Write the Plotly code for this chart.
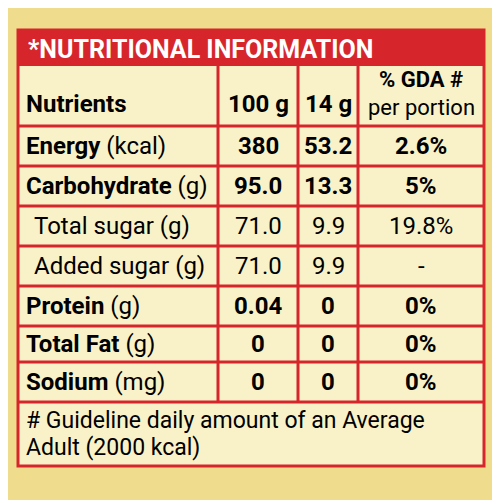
import plotly.graph_objects as go

nutrients = ["Energy", "Carbohydrate", "Total sugar", "Added sugar", "Protein", "Total Fat", "Sodium"]
units = ["(kcal)", "(g)", "(g)", "(g)", "(g)", "(g)", "(mg)"]
per_100g = ["380", "95.0", "71.0", "71.0", "0.04", "0", "0"]
per_14g = ["53.2", "13.3", "9.9", "9.9", "0", "0", "0"]
gda = ["2.6%", "5%", "19.8%", "-", "0%", "0%", "0%"]
is_bold = [True, True, False, False, True, True, True]

RED = "#d6262c"
FONT = "Liberation Sans Narrow, Roboto, Arial"

fig = go.Figure()
shapes = []
ann = []

# background panels
shapes.append(dict(type="rect", x0=18, x1=484, y0=30, y1=466, fillcolor="#f9f2c8", line=dict(color=RED, width=3)))
shapes.append(dict(type="rect", x0=18, x1=484, y0=30, y1=66, fillcolor=RED, line=dict(width=0)))
ann.append(dict(x=26, y=49, text="<b>*NUTRITIONAL INFORMATION</b>", xanchor="left",
                font=dict(color="white", size=25, family=FONT)))

cols = [18, 218, 298, 358, 484]
rows = [66, 126, 166, 206, 246, 286, 326, 362, 402]
for y in rows[1:]:
    shapes.append(dict(type="line", x0=18, x1=484, y0=y, y1=y, line=dict(color=RED, width=3)))
for x in cols[1:-1]:
    shapes.append(dict(type="line", x0=x, x1=x, y0=66, y1=402, line=dict(color=RED, width=3)))

# header row
hy = 104
ann.append(dict(x=24, y=hy, text="<b>Nutrients</b>", xanchor="left", font=dict(size=24, family=FONT, color="black")))
ann.append(dict(x=258, y=hy, text="<b>100 g</b>", font=dict(size=24, family=FONT, color="black")))
ann.append(dict(x=328, y=hy, text="<b>14 g</b>", font=dict(size=24, family=FONT, color="black")))
ann.append(dict(x=421, y=79, text="<b>% GDA #</b>", font=dict(size=22, family=FONT, color="black")))
ann.append(dict(x=421, y=107, text="per portion", font=dict(size=22, family=FONT, color="black")))

for i, name in enumerate(nutrients):
    y = (rows[i + 1] + rows[i + 2]) / 2
    if is_bold[i]:
        label = f"<b>{name}</b> {units[i]}"
        x0 = 24
        val = lambda s: f"<b>{s}</b>"
    else:
        label = f"{name} {units[i]}"
        x0 = 32
        val = lambda s: s
    ann.append(dict(x=x0, y=y, text=label, xanchor="left", font=dict(size=24, family=FONT, color="black")))
    ann.append(dict(x=258, y=y, text=val(per_100g[i]), font=dict(size=24, family=FONT, color="black")))
    ann.append(dict(x=328, y=y, text=val(per_14g[i]), font=dict(size=24, family=FONT, color="black")))
    ann.append(dict(x=421, y=y, text=val(gda[i]), font=dict(size=24, family=FONT, color="black")))

ann.append(dict(x=24, y=420, text="# Guideline daily amount of an Average", xanchor="left",
                font=dict(size=23, family=FONT, color="black")))
ann.append(dict(x=24, y=447, text="Adult (2000 kcal)", xanchor="left",
                font=dict(size=23, family=FONT, color="black")))

for a in ann:
    a.update(xref="x", yref="y", showarrow=False, yanchor="middle")
    a.setdefault("xanchor", "center")

fig.update_layout(
    width=500, height=500, margin=dict(l=0, r=0, t=0, b=0),
    paper_bgcolor="#efdc8c", plot_bgcolor="#efdc8c",
    xaxis=dict(range=[8, 508], visible=False, fixedrange=True),
    yaxis=dict(range=[508, 8], visible=False, fixedrange=True),
    shapes=shapes, annotations=ann, showlegend=False,
)
fig.write_html("out.html")
